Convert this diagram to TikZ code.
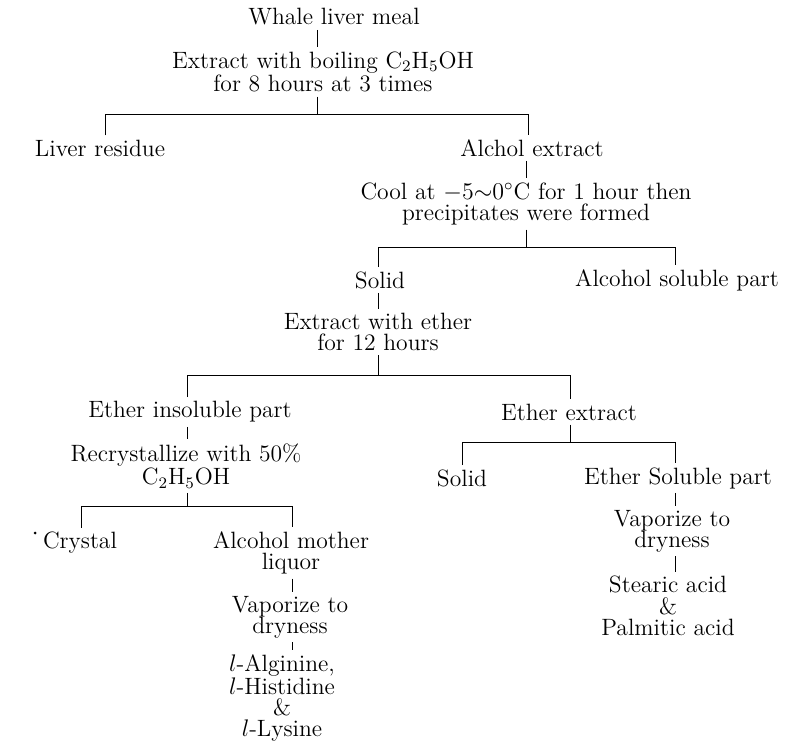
\documentclass[tikz,border=0pt]{standalone}
\usepackage{tikz}
\usetikzlibrary{positioning}

\begin{document}
\begin{tikzpicture}
        [x=0.5pt, y=-0.5pt,
        stage/.style={align=center, inner sep=2pt, font=\fontsize{11.8}{10.6}\selectfont},
        link/.style={draw=black, line width=0.5pt}]
        \useasboundingbox (0,0) rectangle (788,743);

        % products and steps
        \node [stage] (whale) at (334,17) {Whale liver meal};
        \node [stage] (ext1) at (323,72) {Extract with boiling C$_2$H$_5$OH\\for 8 hours at 3 times};
        \node [stage] (liver) at (100,148) {Liver residue};
        \node [stage] (alcext) at (532,148) {Alchol extract};
        \node [stage] (cool) at (526,204) {Cool at $-5{\sim}0^{\circ}$C for 1 hour then\\precipitates were formed};
        \node [stage] (solid1) at (380,280) {Solid};
        \node [stage] (alcsol) at (677,280) {Alcohol soluble part};
        \node [stage] (ext2) at (378,332) {Extract with ether\\for 12 hours};
        \node [stage] (ethins) at (190,412) {Ether insoluble part};
        \node [stage] (ethext) at (569,412) {Ether extract};
        \node [stage] (recry) at (186,466) {Recrystallize with 50\%\\C$_2$H$_5$OH};
        \node [stage] (solid2) at (462,478) {Solid};
        \node [stage] (ethsol) at (678,478) {Ether Soluble part};
        \node [stage] (crystal) at (80,543) {Crystal};
        \node [stage] (mother) at (291,553) {Alcohol mother\\liquor};
        \node [stage] (vap1) at (290,617) {Vaporize to\\dryness};
        \node [stage] (amino) at (282,698) {$l$-Alginine,\\$l$-Histidine\\\&\\$l$-Lysine};
        \node [stage] (vap2) at (672,531) {Vaporize to\\dryness};
        \node [stage] (acids) at (668,606) {Stearic acid\\\&\\Palmitic acid};

        % branch points
        \coordinate (b1) at (317,115);
        \coordinate (b1l) at (105,115);
        \coordinate (b1r) at (528,115);
        \coordinate (b2) at (526,248);
        \coordinate (b2l) at (378,248);
        \coordinate (b2r) at (675,248);
        \coordinate (b3) at (378,376);
        \coordinate (b3l) at (187,376);
        \coordinate (b3r) at (570,376);
        \coordinate (b4l) at (462,443);
        \coordinate (b4r) at (675,443);
        \coordinate (b5l) at (81,507);
        \coordinate (b5r) at (292,507);

        \draw [link] (whale.south -| b1) -- (ext1.north -| b1);
        \draw [link] (ext1.south -| b1) -- (b1);
        \draw [link] (liver.north -| b1l) -- (b1l) -- (b1r) -- (alcext.north -| b1r);
        \draw [link] (alcext.south -| b2) -- (cool.north -| b2);
        \draw [link] (cool.south -| b2) -- (b2);
        \draw [link] (solid1.north -| b2l) -- (b2l) -- (b2r) -- (alcsol.north -| b2r);
        \draw [link] (solid1.south -| b3) -- (ext2.north -| b3);
        \draw [link] (ext2.south -| b3) -- (b3);
        \draw [link] (ethins.north -| b3l) -- (b3l) -- (b3r) -- (ethext.north -| b3r);
        \draw [link] (ethins.south -| b3l) -- (recry.north -| b3l);
        \draw [link] (ethext.south -| b3r) -- (b3r |- b4l);
        \draw [link] (solid2.north -| b4l) -- (b4l) -- (b4r) -- (ethsol.north -| b4r);
        \draw [link] (recry.south -| b3l) -- (b3l |- b5l);
        \draw [link] (crystal.north -| b5l) -- (b5l) -- (b5r) -- (mother.north -| b5r);
        \draw [link] (mother.south -| b5r) -- (vap1.north -| b5r);
        \draw [link] (vap1.south -| b5r) -- (amino.north -| b5r);
        \draw [link] (ethsol.south -| b4r) -- (vap2.north -| b4r);
        \draw [link] (vap2.south -| b4r) -- (acids.north -| b4r);

        \fill (35,533) circle (1.5);
\end{tikzpicture}
\end{document}
